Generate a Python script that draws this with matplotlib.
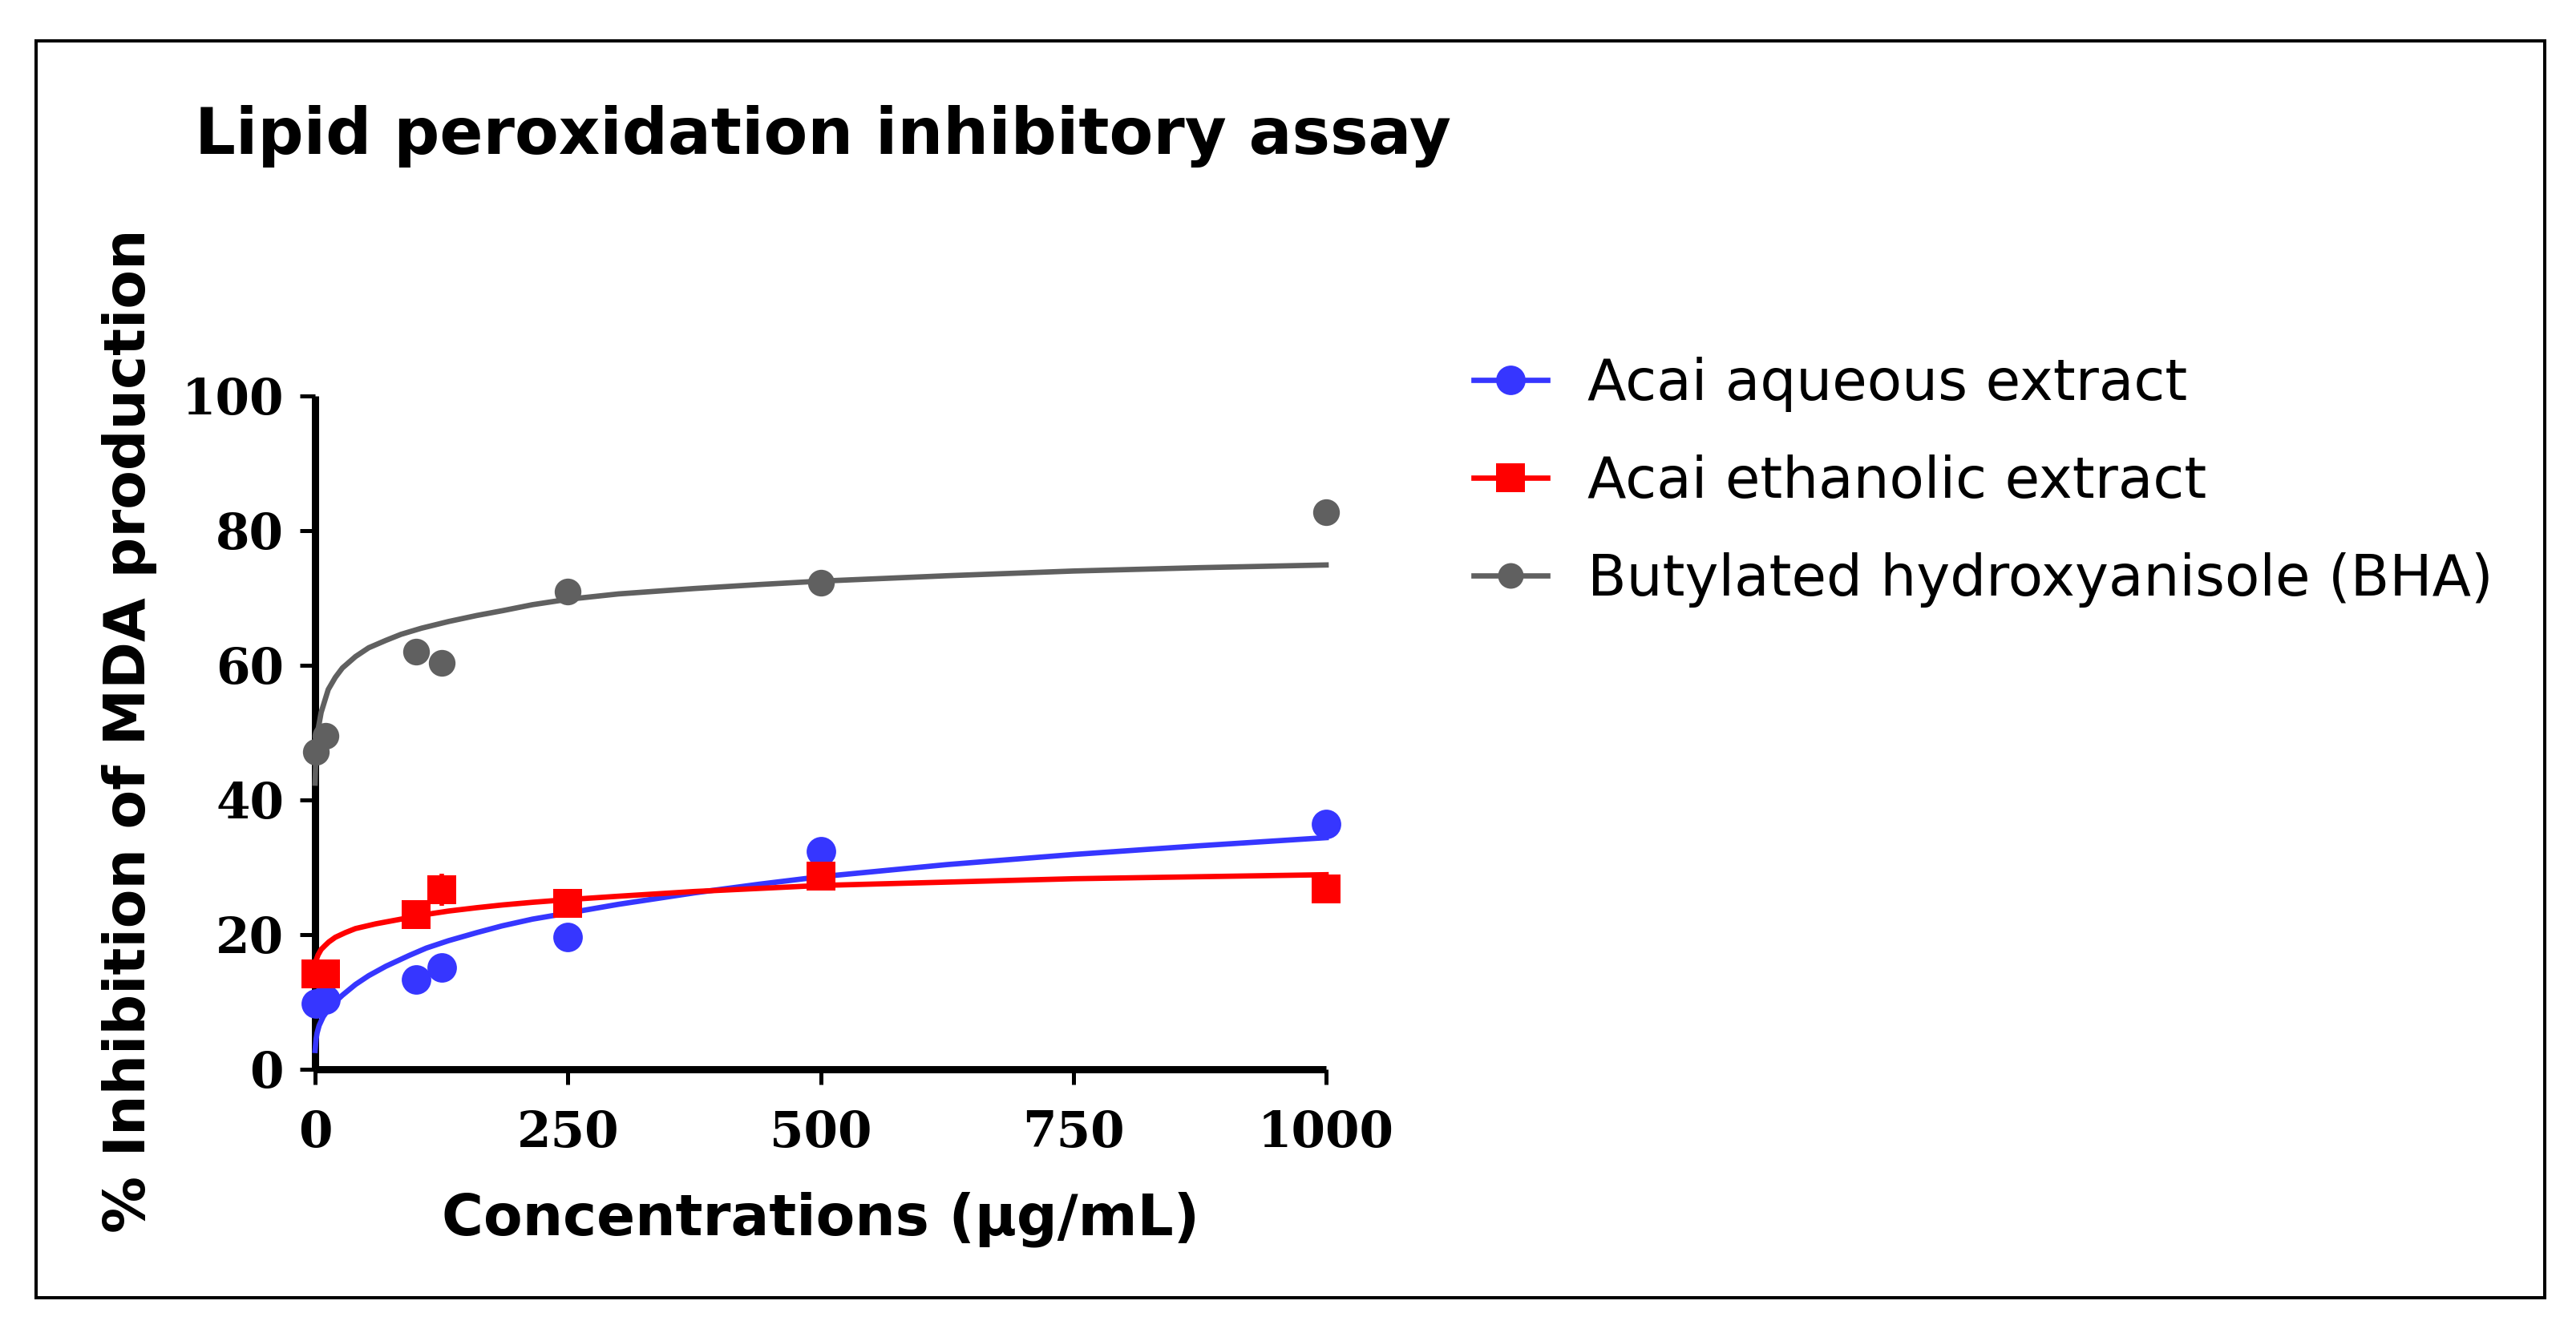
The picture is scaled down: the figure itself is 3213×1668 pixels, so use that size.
import matplotlib
matplotlib.use("Agg")
import matplotlib.pyplot as plt
from matplotlib.lines import Line2D
from matplotlib.patches import Rectangle

# ---- data ----
conc = [1, 10, 100, 125, 250, 500, 1000]
aqueous = [9.8, 10.4, 13.3, 15.1, 19.7, 32.4, 36.4]
ethanolic = [14.2, 14.2, 23.0, 26.7, 24.7, 28.7, 26.8]
ethanolic_err = [0, 0, 0, 2.4, 0, 0, 0]
bha = [47.1, 49.5, 62.0, 60.4, 71.0, 72.3, 82.7]

# fitted curves
fit_aq_x = [0, 1, 2, 4, 8, 15, 27, 40, 53, 70, 93, 110, 132, 160, 185, 215, 250,
            300, 375, 440, 500, 625, 750, 875, 1000]
fit_aq_y = [2.8, 4.5, 5.4, 6.5, 7.8, 9.3, 11.0, 12.6, 13.9, 15.3, 16.9, 18.0, 19.1,
            20.3, 21.3, 22.3, 23.2, 24.5, 26.2, 27.5, 28.6, 30.4, 31.9, 33.2, 34.4]
fit_et_x = [0, 1, 3, 6, 10, 13.5, 20, 30, 40, 60, 85, 110, 132, 160, 185, 215, 250,
            300, 375, 500, 625, 750, 875, 1000]
fit_et_y = [15.5, 16.2, 17.0, 17.8, 18.4, 18.9, 19.6, 20.3, 20.9, 21.6, 22.3, 23.0,
            23.5, 24.0, 24.4, 24.8, 25.2, 25.7, 26.4, 27.3, 27.8, 28.3, 28.6, 28.9]
fit_bha_x = [0, 0.5, 1.5, 3, 6, 13, 20, 27, 40, 53, 70, 85, 105, 132, 160, 185, 215,
             250, 300, 375, 440, 500, 625, 750, 875, 1000]
fit_bha_y = [42.5, 45.0, 48.5, 50.5, 53.0, 56.4, 58.2, 59.6, 61.3, 62.6, 63.7, 64.6,
             65.5, 66.5, 67.4, 68.1, 69.0, 69.8, 70.6, 71.4, 72.0, 72.5, 73.3, 74.0,
             74.5, 74.9]

labels = ["Acai aqueous extract", "Acai ethanolic extract", "Butylated hydroxyanisole (BHA)"]
xticks = [0, 250, 500, 750, 1000]
yticks = [0, 20, 40, 60, 80, 100]

BLUE = "#3636FF"
RED = "#FF0000"
GRAY = "#606060"

W, H = 3213, 1668
fig = plt.figure(figsize=(W / 100, H / 100), dpi=100)
ax = fig.add_axes([393 / W, (H - 1334) / H, (1654 - 393) / W, (1334 - 494) / H])

lw = 4.8
ax.plot(fit_aq_x, fit_aq_y, color=BLUE, lw=lw, zorder=3, clip_on=False,
        solid_joinstyle="round")
ax.plot(fit_et_x, fit_et_y, color=RED, lw=lw, zorder=3, clip_on=False,
        solid_joinstyle="round")
ax.plot(fit_bha_x, fit_bha_y, color=GRAY, lw=lw, zorder=3, clip_on=False,
        solid_joinstyle="round")

ax.plot(conc, aqueous, 'o', color=BLUE, ms=26.5, mew=0, zorder=4, clip_on=False)
ax.errorbar(conc, ethanolic, yerr=ethanolic_err, fmt='s', color=RED, ms=26.5, mew=0,
            elinewidth=4, capsize=11.5, capthick=7, zorder=4, clip_on=False)
ax.plot(conc, bha, 'o', color=GRAY, ms=24, mew=0, zorder=4, clip_on=False)

ax.set_xlim(0, 1000)
ax.set_ylim(0, 100)
ax.set_xticks(xticks)
ax.set_yticks(yticks)
for s in ["top", "right"]:
    ax.spines[s].set_visible(False)
for s in ["left", "bottom"]:
    ax.spines[s].set_linewidth(6.5)
    ax.spines[s].set_capstyle("butt")
ax.tick_params(axis="both", direction="out", length=14, width=3.6, color="black")
ax.tick_params(axis="y", pad=14)
ax.tick_params(axis="x", pad=22)
for t in ax.get_xticklabels() + ax.get_yticklabels():
    t.set_fontfamily("DejaVu Serif")
    t.set_fontweight("bold")
    t.set_fontsize(44)

fig.text(243 / W, (H - 192) / H, "Lipid peroxidation inhibitory assay",
         fontfamily="DejaVu Sans", fontweight="bold", fontsize=57.5,
         ha="left", va="baseline")
fig.text((393 + 1654) / 2 / W, (H - 1540) / H, "Concentrations (μg/mL)",
         fontfamily="DejaVu Sans", fontweight="bold", fontsize=51,
         ha="center", va="baseline")
fig.text(161 / W, (H - 912) / H, "% Inhibition of MDA production",
         fontfamily="DejaVu Sans", fontweight="bold", fontsize=51,
         ha="center", va="center", rotation=90)

handles = [
    Line2D([], [], color=BLUE, lw=lw, marker='o', ms=26.5, mew=0),
    Line2D([], [], color=RED, lw=lw, marker='s', ms=26.5, mew=0),
    Line2D([], [], color=GRAY, lw=lw, marker='o', ms=23, mew=0),
]
fig.legend(handles, labels, loc="upper left",
           bbox_to_anchor=(1838 / W, (H - 445) / H), bbox_transform=fig.transFigure,
           frameon=False, borderpad=0, borderaxespad=0, handlelength=1.3,
           handletextpad=0.7, labelspacing=0.75,
           prop={"family": "DejaVu Sans", "size": 51})

fig.patches.append(Rectangle((45 / W, (H - 1619) / H), (3174 - 45) / W, (1619 - 51) / H,
                             transform=fig.transFigure, fill=False, ec="black", lw=2.9))

fig.savefig("out.png", dpi=100, facecolor="white")
